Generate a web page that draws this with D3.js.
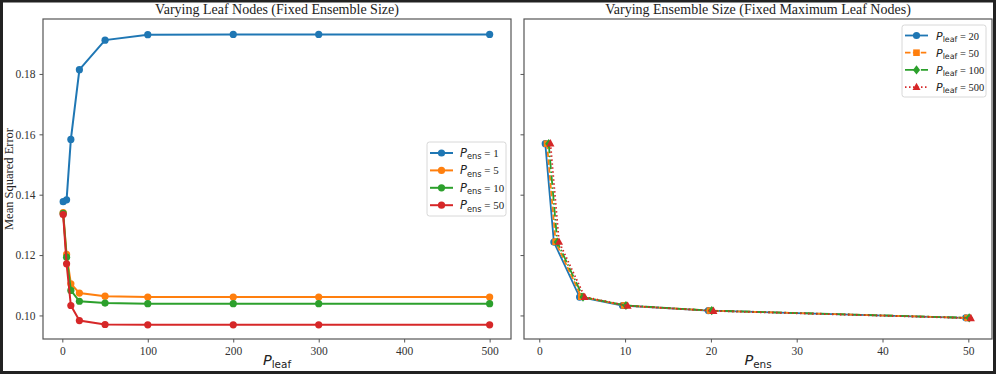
<!DOCTYPE html>
<html><head><meta charset="utf-8">
<script src="https://cdn.jsdelivr.net/npm/d3@7"></script>
<style>
body{margin:0;background:#fff;}
svg{display:block;}
text{font-family:"Liberation Serif","DejaVu Serif",serif;}
.m{font-family:"DejaVu Sans",sans-serif;}
</style></head><body>
<svg id="c" width="997" height="377"></svg>
<script>
// ---- data ----
const leafX = [1, 5, 10, 20, 50, 100, 200, 300, 500];
const ensLabels = ["1", "5", "10", "50"];
const mseEns1  = [0.1377, 0.1383, 0.1583, 0.1814, 0.1912, 0.1930, 0.1931, 0.1931, 0.1931];
const mseEns5  = [0.1341, 0.1202, 0.1105, 0.1074, 0.1064, 0.1061, 0.1061, 0.1061, 0.1061];
const mseEns10 = [0.1338, 0.1193, 0.1083, 0.1047, 0.1041, 0.1039, 0.1039, 0.1039, 0.1039];
const mseEns50 = [0.1334, 0.1171, 0.1033, 0.0983, 0.0970, 0.0969, 0.0969, 0.0969, 0.0969];

const ensX = [1, 2, 5, 10, 20, 50];
const leafLabels = ["20", "50", "100", "500"];
const mseLeaf20  = [0.1569, 0.1243, 0.1061, 0.1033, 0.1016, 0.0992];
const mseLeaf50  = [0.1569, 0.1244, 0.1062, 0.1033, 0.1016, 0.0992];
const mseLeaf100 = [0.1569, 0.1243, 0.1061, 0.1033, 0.1016, 0.0992];
const mseLeaf500 = [0.1570, 0.1244, 0.1061, 0.1032, 0.1015, 0.0991];
const ensOffsets = [-0.3, -0.1, 0.1, 0.3];

const xTicksLeft = [0, 100, 200, 300, 400, 500];
const xTicksRight = [0, 10, 20, 30, 40, 50];
const yTicks = [0.10, 0.12, 0.14, 0.16, 0.18];

const colors = ["#1f77b4", "#ff7f0e", "#2ca02c", "#d62728"];

// ---- drawing ----
const svg = d3.select("#c");
svg.append("rect").attr("x",1.5).attr("y",1).attr("width",993).attr("height",371.5)
  .attr("fill","none").attr("stroke","#222").attr("stroke-width",3);

const y = d3.scaleLinear().domain([0.0922, 0.1982]).range([339, 19]);
const xL = d3.scaleLinear().domain([-22.6, 525]).range([43, 511]);
const xR = d3.scaleLinear().domain([-1.78, 52.76]).range([524, 992]);

function frame(g, x, x0, x1, xticks, ylabels){
  g.append("rect").attr("x",x0).attr("y",19).attr("width",x1-x0).attr("height",320)
    .attr("fill","none").attr("stroke","#555").attr("stroke-width",1.2);
  const xa = g.append("g").attr("transform","translate(0,339)")
    .call(d3.axisBottom(x).tickValues(xticks).tickSize(3.5).tickPadding(4).tickFormat(d3.format("d")));
  const ya = g.append("g").attr("transform",`translate(${x0},0)`)
    .call(d3.axisLeft(y).tickValues(yTicks).tickSize(3.5).tickPadding(4)
      .tickFormat(ylabels ? d3.format(".2f") : ""));
  [xa, ya].forEach(a=>{
    a.select(".domain").remove();
    a.selectAll(".tick line").attr("stroke","#555");
    a.selectAll(".tick text").attr("font-family","Liberation Serif").attr("font-size",11.5).attr("fill","#333");
  });
}

function mathLabel(sel, sub, rest, size){
  sel.append("tspan").attr("class","m").attr("font-style","italic").attr("font-size",size).text("P");
  sel.append("tspan").attr("class","m").attr("font-size",size*0.72).attr("dy",size*0.2).text(sub);
  if(rest!==null){
    sel.append("tspan").attr("font-size",size*0.95).attr("dy",-size*0.2).text(rest);
  }
}

// left panel
const gL = svg.append("g");
frame(gL, xL, 43, 511, xTicksLeft, true);
gL.append("text").attr("x",277).attr("y",14).attr("text-anchor","middle").attr("font-size",14).attr("fill","#222")
  .text("Varying Leaf Nodes (Fixed Ensemble Size)");
gL.append("text").attr("transform","translate(13,179) rotate(-90)").attr("text-anchor","middle")
  .attr("font-size",12.5).attr("fill","#222").text("Mean Squared Error");
{
  const t = gL.append("text").attr("x",277).attr("y",365).attr("text-anchor","middle").attr("fill","#222");
  mathLabel(t, "leaf", null, 14.5);
}
const leftSeries = [mseEns1, mseEns5, mseEns10, mseEns50];
leftSeries.forEach((s,i)=>{
  const pts = leafX.map((xv,j)=>[xL(xv), y(s[j])]);
  gL.append("path").attr("d", d3.line()(pts)).attr("fill","none").attr("stroke",colors[i]).attr("stroke-width",2);
  gL.selectAll(null).data(pts).enter().append("circle")
    .attr("cx",d=>d[0]).attr("cy",d=>d[1]).attr("r",3.6).attr("fill",colors[i]);
});
// left legend
{
  const lg = gL.append("g");
  lg.append("rect").attr("x",427).attr("y",142).attr("width",79).attr("height",74).attr("rx",2.5)
    .attr("fill","#fff").attr("fill-opacity",0.8).attr("stroke","#d8d8d8");
  ensLabels.forEach((lab,i)=>{
    const yy = 153 + i*17.4;
    lg.append("line").attr("x1",430).attr("x2",453).attr("y1",yy).attr("y2",yy).attr("stroke",colors[i]).attr("stroke-width",2);
    lg.append("circle").attr("cx",441.5).attr("cy",yy).attr("r",3.6).attr("fill",colors[i]);
    const t = lg.append("text").attr("x",460).attr("y",yy+4).attr("fill","#222");
    mathLabel(t, "ens", " = "+lab, 11.5);
  });
}

// right panel
const gR = svg.append("g");
frame(gR, xR, 524, 992, xTicksRight, false);
gR.append("text").attr("x",758).attr("y",14).attr("text-anchor","middle").attr("font-size",14).attr("fill","#222")
  .text("Varying Ensemble Size (Fixed Maximum Leaf Nodes)");
{
  const t = gR.append("text").attr("x",758).attr("y",365).attr("text-anchor","middle").attr("fill","#222");
  mathLabel(t, "ens", null, 14.5);
}
const rightSeries = [mseLeaf20, mseLeaf50, mseLeaf100, mseLeaf500];
const dashes = [null, "5.5,2.4", "9.6,2.4,1.5,2.4", "1.5,2.5"];
function marker(g, kind, cx, cy, col){
  if(kind===0) g.append("circle").attr("cx",cx).attr("cy",cy).attr("r",3.6).attr("fill",col);
  else if(kind===1) g.append("rect").attr("x",cx-3.3).attr("y",cy-3.3).attr("width",6.6).attr("height",6.6).attr("fill",col);
  else if(kind===2) g.append("path").attr("d",`M${cx},${cy-4.6}L${cx+3.6},${cy}L${cx},${cy+4.6}L${cx-3.6},${cy}Z`).attr("fill",col);
  else g.append("path").attr("d",`M${cx},${cy-4.3}L${cx+4},${cy+3}L${cx-4},${cy+3}Z`).attr("fill",col);
}
rightSeries.forEach((s,i)=>{
  const pts = ensX.map((xv,j)=>[xR(xv+ensOffsets[i]), y(s[j])]);
  const p = gR.append("path").attr("d", d3.line()(pts)).attr("fill","none").attr("stroke",colors[i]).attr("stroke-width",1.8);
  if(dashes[i]) p.attr("stroke-dasharray",dashes[i]);
  pts.forEach(d=>marker(gR, i, d[0], d[1], colors[i]));
});
{
  const lg = gR.append("g");
  lg.append("rect").attr("x",902).attr("y",25).attr("width",84).attr("height",72).attr("rx",2.5)
    .attr("fill","#fff").attr("fill-opacity",0.8).attr("stroke","#d8d8d8");
  leafLabels.forEach((lab,i)=>{
    const yy = 35.5 + i*17.2;
    const l = lg.append("line").attr("x1",905).attr("x2",928).attr("y1",yy).attr("y2",yy).attr("stroke",colors[i]).attr("stroke-width",1.8);
    if(dashes[i]) l.attr("stroke-dasharray",dashes[i]);
    marker(lg, i, 916.5, yy, colors[i]);
    const t = lg.append("text").attr("x",936).attr("y",yy+4).attr("fill","#222");
    mathLabel(t, "leaf", " = "+lab, 11);
  });
}
</script>
</body></html>
